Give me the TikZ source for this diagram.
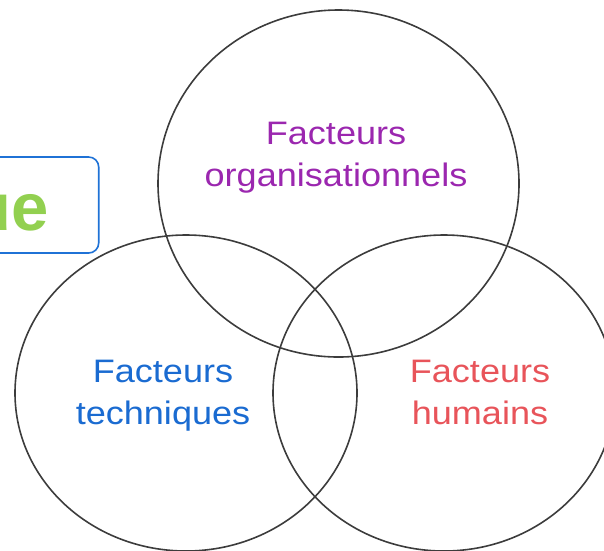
\documentclass[tikz,border=0pt]{standalone}
\usepackage{fontspec}
\setmainfont{Liberation Sans}
\newfontfamily\labelfont[FakeStretch=1.11]{Liberation Sans}
\usepackage{xcolor}
\usetikzlibrary{shapes.geometric,positioning}

\definecolor{ringgray}{HTML}{3C3C3C}
\definecolor{orgapurple}{HTML}{9B27AF}
\definecolor{techblue}{HTML}{1A6BD1}
\definecolor{humred}{HTML}{E8545A}
\definecolor{boxblue}{HTML}{1F72D6}
\definecolor{titlegreen}{HTML}{92D050}

\begin{document}
\begin{tikzpicture}[
    x=1pt, y=-1pt,
    ring/.style={ellipse, draw=ringgray, line width=1.6pt, inner sep=0pt},
    factor/.style={align=center, font=\labelfont\fontsize{32.5}{41.7}\selectfont, inner sep=0pt},
    titlebox/.style={rectangle, draw=boxblue, line width=1.6pt, rounded corners=10pt, minimum width=160pt, minimum height=96pt}
]
    \useasboundingbox (0,0) rectangle (604,550);
    \clip (0,0) rectangle (604,550);

    % title frame, cut by the left edge
    \node [titlebox, anchor=east] (titre) at (99.5,205) {};
    \node [anchor=base east, inner sep=0pt, text=titlegreen, font=\bfseries\fontsize{67}{67}\selectfont] (titretxt) at (49,230) {ue};

    % the three overlapping sets
    \node [ring, minimum width=361pt, minimum height=347pt] (orga) at (338.5,183.5) {};
    \node [ring, minimum width=342pt, minimum height=316pt] (tech) at (186,393) {};
    \node [ring, minimum width=342pt, minimum height=316pt] (hum) at (444,393) {};

    \node [factor, text=orgapurple] (orgalbl) at (336,158) {Facteurs\\organisationnels};
    \node [factor, text=techblue] (techlbl) at (163,396) {Facteurs\\techniques};
    \node [factor, text=humred] (humlbl) at (480,396) {Facteurs\\humains\vphantom{q}};
\end{tikzpicture}
\end{document}
